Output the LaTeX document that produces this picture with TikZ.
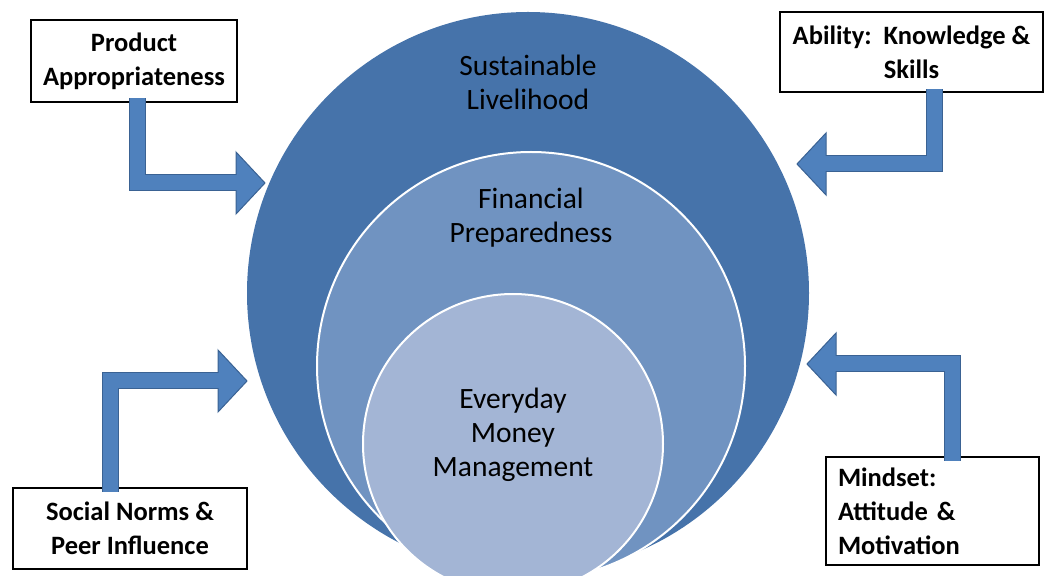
\documentclass[tikz,border=0pt]{standalone}
\usepackage{fontspec}
\setmainfont{Carlito}
\usetikzlibrary{calc}
\definecolor{RingOuter}{HTML}{4673AA}
\definecolor{RingMiddle}{HTML}{7093C1}
\definecolor{RingInner}{HTML}{A3B5D5}
\definecolor{ArrowFill}{HTML}{4F81BD}
\definecolor{ArrowEdge}{HTML}{3A6293}
\tikzset{
  every node/.style={font=\fontsize{29.5}{34}\selectfont, text=black},
  ring/.style={draw=white, line width=2pt},
  factor/.style={draw=black, line width=2.2pt, fill=white, font=\bfseries\fontsize{26.5}{34}\selectfont, align=center, inner sep=0pt},
  shaftedge/.style={draw=ArrowEdge, line width=17pt, line join=miter},
  shaftfill/.style={draw=ArrowFill, line width=15pt, line join=miter},
  arrowhead/.style={fill=ArrowFill, draw=ArrowEdge, line width=1pt, line join=miter},
}
% bent block arrow: #1 start on the box, #2 tip, #3 = 1 (points right) or -1 (points left)
\newcommand\bentarrow[3]{%
  \coordinate (ba-s) at (#1);
  \coordinate (ba-c) at (ba-s |- #2);
  \coordinate (ba-b) at ($(#2)+(-29*#3,0)$);
  \draw[shaftedge] (ba-s) -- (ba-c) -- (ba-b);
  \filldraw[arrowhead] ($(ba-b)+(0,31)$) -- (#2) -- ($(ba-b)+(0,-31)$) -- cycle;
  \draw[shaftfill] (ba-s) -- (ba-c) -- ($(ba-b)+(3*#3,0)$);
}

\begin{document}
\begin{tikzpicture}[x=1pt,y=1pt]
  \useasboundingbox (0,0) rectangle (1045,576);
  % nested circles, cut off by the lower edge
  \begin{scope}
    \clip (0,0) rectangle (1045,576);
    \fill[RingOuter] (528,283) circle (281);
    \filldraw[ring, fill=RingMiddle] (531,210) circle (214);
    \filldraw[ring, fill=RingInner] (513,132) circle (150);
  \end{scope}
  \node[align=center] (sl) at (528,494) {Sustainable\\Livelihood};
  \node[align=center] (fp) at (531,358) {Financial\\Preparedness};
  \node[align=center] (em) at (513,141) {Everyday\\Money\\Management};

  % factor boxes
  \node[factor, minimum width=206, minimum height=82] (pa) at (134,515) {Product\\Appropriateness};
  \node[factor, minimum width=263, minimum height=80] (ks) at (911.5,524) {Ability:\ \ Knowledge \&\\Skills};
  \node[factor, minimum width=234, minimum height=81] (sn) at (130,47.5) {Social Norms \&\\Peer Influence};
  \node[factor, minimum height=108, text width=189, align=left, inner xsep=12] (ma) at (932.5,65) {Mindset:\\Attitude \&\\Motivation};

  % arrows into the outer circle
  \coordinate (tip-pa) at (265,393);
  \coordinate (tip-ks) at (797,412);
  \coordinate (tip-sn) at (247,195);
  \coordinate (tip-ma) at (807,212);
  \bentarrow{[shift={(3,5)}]pa.south}{tip-pa}{1}
  \bentarrow{[shift={(23,4)}]ks.south}{tip-ks}{-1}
  \bentarrow{[shift={(-19.5,-5)}]sn.north}{tip-sn}{1}
  \bentarrow{[shift={(20,-5)}]ma.north}{tip-ma}{-1}
\end{tikzpicture}
\end{document}
